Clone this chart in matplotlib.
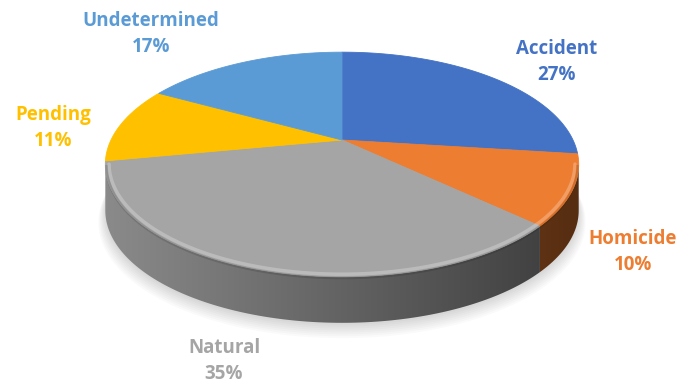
import numpy as np
import matplotlib.pyplot as plt
from matplotlib.patches import Polygon
from matplotlib.colors import to_rgb

categories = ['Accident', 'Homicide', 'Natural', 'Pending', 'Undetermined']
shares = [27, 10, 35, 11, 17]
colors = ['#4472C4', '#ED7D31', '#A5A5A5', '#FFC000', '#5B9BD5']

# pie geometry in pixel units (y grows downwards)
cx, cy = 342, 140
R, Rv = 231, 107
k = 0.218          # perspective strength
depth = 46


def proj(t, r=1.0, drop=0.0):
    t = np.radians(t)
    f = 1.0 / (1.0 + k * r * np.sin(t))
    x = cx + R * r * np.cos(t) * f
    y = cy - Rv * r * np.sin(t) * f + drop
    return x, y


def shade(x):
    # side walls get darker from left to right
    return np.clip(0.84 - 0.48 * (x - 104) / 474, 0.35, 0.95)


fig = plt.figure(figsize=(6.96, 3.85), dpi=100)
ax = fig.add_axes([0, 0, 1, 1])
ax.set_xlim(0, 696)
ax.set_ylim(385, 0)
ax.axis('off')

# slice angles, clockwise from 12 o'clock
total = sum(shares)
bounds = 90 - 360 * np.concatenate([[0], np.cumsum(shares)]) / total
t_right = -np.degrees(np.arcsin(k))
t_left = -180 - t_right

# soft shadow under the disc
for i in range(8):
    ts = np.linspace(0, -180, 120)
    xs, ys = proj(ts, 1.0 + 0.004 * i, depth + 2 + 1.2 * i)
    xt, yt = proj(ts[::-1], 0.9, depth - 10)
    ax.add_patch(Polygon(np.column_stack([np.r_[xs, xt], np.r_[ys, yt]]),
                         closed=True, fc='#000000', ec='none', alpha=0.02, zorder=1))

# side walls
for name, col, a, b in zip(categories, colors, bounds[:-1], bounds[1:]):
    lo, hi = max(b, t_left), min(a, t_right)
    if lo >= hi:
        continue
    ts = np.linspace(hi, lo, 150)
    xt, yt = proj(ts)
    xb, yb = proj(ts[::-1], drop=depth)
    poly = Polygon(np.column_stack([np.r_[xt, xb], np.r_[yt, yb]]), closed=True,
                   fc='none', ec='none', zorder=2)
    ax.add_patch(poly)
    x0, x1 = min(xt.min(), xb.min()) - 1, max(xt.max(), xb.max()) + 1
    gx = np.linspace(x0, x1, 200)
    img = np.array(to_rgb(col))[None, None, :] * shade(gx)[None, :, None]
    im = ax.imshow(img, extent=[x0, x1, yb.max() + 1, min(yt.min(), yb.min()) - 1],
                   aspect='auto', interpolation='bilinear', zorder=2)
    im.set_clip_path(poly)

# top faces
for name, col, a, b in zip(categories, colors, bounds[:-1], bounds[1:]):
    ts = np.linspace(a, b, 200)
    xs, ys = proj(ts)
    ax.add_patch(Polygon(np.column_stack([np.r_[cx, xs], np.r_[cy, ys]]), closed=True,
                         fc=col, ec=col, lw=0.6, zorder=3))

# bevel highlight along the front rim
ts = np.linspace(t_right, t_left, 200)
xs, ys = proj(ts, 0.985)
ax.plot(xs, ys, color='white', lw=2.5, alpha=0.25, zorder=4, solid_capstyle='round')
xs, ys = proj(ts, 0.995, 2)
ax.plot(xs, ys, color='black', lw=2, alpha=0.12, zorder=4)

# data labels (centre of each two-line block)
label_pos = [(557, 62), (633, 252), (224, 361), (53, 128), (151, 34)]
for name, col, s, (lx, ly) in zip(categories, colors, shares, label_pos):
    ax.text(lx, ly, f'{name}\n{s}%', color=col, ha='center', va='center',
            fontsize=13.5, fontweight='bold', family='Open Sans', linespacing=1.35,
            zorder=5)

fig.savefig('out.png', dpi=100)
